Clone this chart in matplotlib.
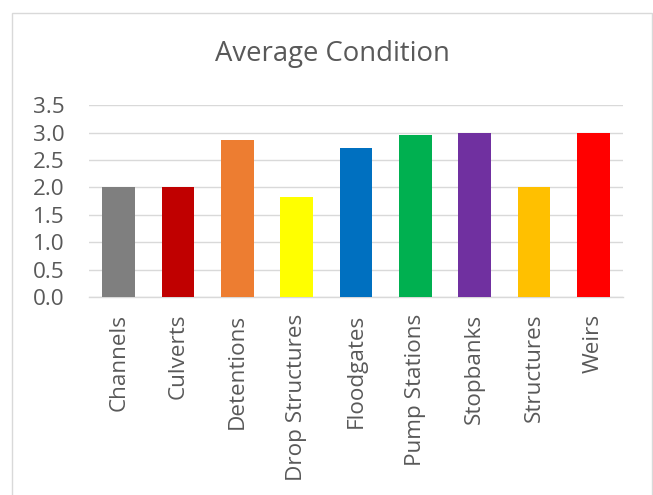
import matplotlib
matplotlib.use("Agg")
import matplotlib.pyplot as plt
from matplotlib.patches import Rectangle

categories = ["Channels", "Culverts", "Detentions", "Drop Structures", "Floodgates",
              "Pump Stations", "Stopbanks", "Structures", "Weirs"]
values = [2.0, 2.0, 2.87, 1.83, 2.72, 2.96, 3.0, 2.0, 3.0]
colors = ["#7f7f7f", "#c00000", "#ed7d31", "#ffff00", "#0070c0",
          "#00b050", "#7030a0", "#ffc000", "#ff0000"]
yticks = [0.0, 0.5, 1.0, 1.5, 2.0, 2.5, 3.0, 3.5]
title = "Average Condition"

text_color = "#595959"
grid_color = "#d9d9d9"
plt.rcParams["font.family"] = ["Open Sans", "DejaVu Sans"]

fig = plt.figure(figsize=(6.53, 4.95), dpi=100)
fig.patch.set_facecolor("white")

# chart frame
fig.patches.append(Rectangle((11.5 / 653, -0.05), (652 - 11.5) / 653, 1.05 - 13 / 495,
                             transform=fig.transFigure, fill=False,
                             edgecolor=grid_color, linewidth=1.0))

ax = fig.add_axes([89 / 653, 1 - 297 / 495, (623 - 89) / 653, (297 - 105.3) / 495])
x = list(range(len(categories)))
ax.bar(x, values, width=0.555, color=colors, zorder=3)

ax.set_xlim(-0.5, len(categories) - 0.5)
ax.set_ylim(0, 3.5)
ax.set_yticks(yticks)
ax.set_yticklabels([f"{v:.1f}" for v in yticks])
ax.set_xticks(x)
ax.set_xticklabels(categories, rotation=90)

ax.yaxis.grid(True, color=grid_color, linewidth=1.0, zorder=0)
ax.set_axisbelow(True)
for s in ["top", "right", "left"]:
    ax.spines[s].set_visible(False)
ax.spines["bottom"].set_color(grid_color)
ax.spines["bottom"].set_linewidth(1.0)
ax.tick_params(axis="both", length=0, labelsize=16.2, labelcolor=text_color)
ax.tick_params(axis="y", pad=17.5)
ax.tick_params(axis="x", pad=12)

fig.text(332 / 653, 1 - 54 / 495, title, ha="center", va="center",
         fontsize=19.8, color=text_color)

fig.savefig("out.png", dpi=100, facecolor="white")
